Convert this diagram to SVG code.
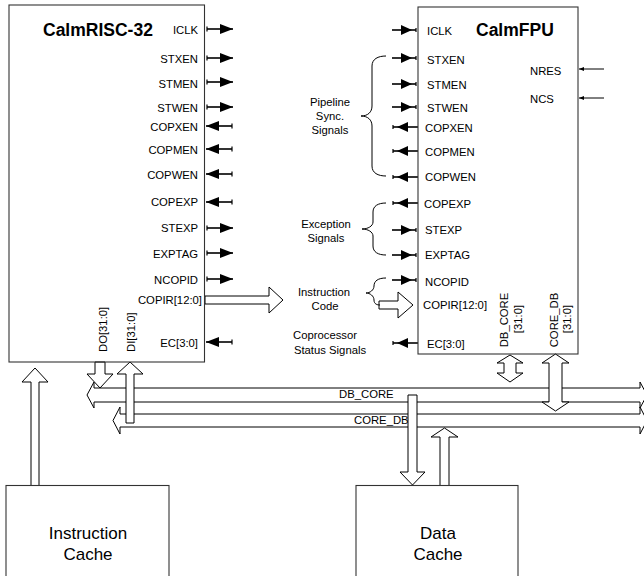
<svg xmlns="http://www.w3.org/2000/svg" width="644" height="576" viewBox="0 0 644 576">
<style>
text{font-family:"Liberation Sans",Arial,sans-serif;fill:#000}
.pin{font-size:11.3px}
.r{text-anchor:end}
.m{text-anchor:middle}
.title{font-size:17.5px;font-weight:bold}
.cache{font-size:17px;text-anchor:middle}
.blk{fill:#fff;stroke:#333;stroke-width:1.1}
.sig{stroke:#000;stroke-width:1.6;fill:none}
.sigL{stroke:#000;stroke-width:1.6;fill:none;marker-start:url(#tick);marker-end:url(#tri)}
.sigR{stroke:#000;stroke-width:1.6;fill:none;marker-end:url(#triT)}
.thin{stroke:#000;stroke-width:1;fill:none;marker-end:url(#small)}
.hol{fill:#fff;stroke:#000;stroke-width:1}
.brace{fill:none;stroke:#000;stroke-width:1}
</style>
<defs>
<marker id="tri" markerUnits="userSpaceOnUse" markerWidth="14" markerHeight="10" refX="13" refY="5" orient="auto" overflow="visible"><path d="M0,0 L13,5 L0,10 z" fill="#000"/></marker>
<marker id="tick" markerUnits="userSpaceOnUse" markerWidth="3" markerHeight="6" refX="1" refY="3" orient="auto" overflow="visible"><path d="M1,0.5 V5.5" stroke="#000" stroke-width="1.2"/></marker>
<marker id="triT" markerUnits="userSpaceOnUse" markerWidth="17" markerHeight="10" refX="16" refY="5" orient="auto" overflow="visible"><path d="M1,0 L12,5 L1,10 z" fill="#000"/><path d="M16,3 V7" stroke="#000" stroke-width="1.2"/></marker>
<marker id="small" markerUnits="userSpaceOnUse" markerWidth="5" markerHeight="4" refX="5" refY="2" orient="auto" overflow="visible"><path d="M0,0 L5,2 L0,4 z" fill="#000"/></marker>
</defs>

<g id="connectors">
  <!-- buses -->
  <polygon id="bus-db-core" class="hol" points="87,395 94,382 94,388 640,388 640,382 647,395 640,408 640,402 94,402 94,408"/>
  <polygon id="bus-core-db" class="hol" points="113,420.5 120,407 120,414 640,414 640,407 647,420.5 640,434 640,427 120,427 120,434"/>
  <text class="pin" x="339" y="398">DB_CORE</text>
  <text class="pin" x="354" y="424">CORE_DB</text>

  <!-- instruction cache to CalmRISC -->
  <polygon class="hol" points="35,368 48,382 39,382 39,486 31,486 31,382 22,382"/>
  <!-- DO -->
  <polygon class="hol" points="95,362 105,362 105,374 113,374 100,388 87,374 95,374"/>
  <!-- DI -->
  <polygon class="hol" points="130,362 143,374 134,374 134,423 126,423 126,374 117,374"/>
  <!-- Data cache down -->
  <polygon class="hol" points="408,395 417,395 417,472 425,472 412.5,485 400,472 408,472"/>
  <!-- Data cache up -->
  <polygon class="hol" points="444.5,428 458,437 449,437 449,486 440,486 440,437 431,437"/>
  <!-- FPU DB_CORE double -->
  <polygon class="hol" points="510,355 523,363 516,363 516,373 523,373 510,382 497,373 504,373 504,363 497,363"/>
  <!-- FPU CORE_DB double -->
  <polygon class="hol" points="555.5,354 569,363 562,363 562,402 569,402 555.5,411 542,402 549,402 549,363 542,363"/>

  <!-- CalmRISC pins -->
  <line class="sigL" x1="207" y1="29" x2="233" y2="29"/>
  <line class="sigL" x1="207" y1="58" x2="233" y2="58"/>
  <line class="sigL" x1="207" y1="82" x2="233" y2="82"/>
  <line class="sigL" x1="207" y1="107" x2="233" y2="107"/>
  <line class="sigL" x1="232" y1="126" x2="206" y2="126"/>
  <line class="sigL" x1="232" y1="149" x2="206" y2="149"/>
  <line class="sigL" x1="232" y1="174" x2="206" y2="174"/>
  <line class="sigL" x1="232" y1="202" x2="206" y2="202"/>
  <line class="sigL" x1="207" y1="228" x2="233" y2="228"/>
  <line class="sigL" x1="207" y1="253" x2="233" y2="253"/>
  <line class="sigL" x1="207" y1="279" x2="233" y2="279"/>
  <line class="sigL" x1="232" y1="342" x2="206" y2="342"/>
  <polygon class="hol" points="205,296 269,296 269,287 283,300 269,313 269,304 205,304"/>

  <!-- CalmFPU pins -->
  <line class="sigR" x1="392" y1="30" x2="416" y2="30"/>
  <line class="sigR" x1="392" y1="58" x2="416" y2="58"/>
  <line class="sigR" x1="392" y1="84" x2="416" y2="84"/>
  <line class="sigR" x1="392" y1="107" x2="416" y2="107"/>
  <line class="sigR" x1="418" y1="127" x2="393" y2="127"/>
  <line class="sigR" x1="418" y1="151" x2="393" y2="151"/>
  <line class="sigR" x1="418" y1="177" x2="393" y2="177"/>
  <line class="sigR" x1="418" y1="203" x2="393" y2="203"/>
  <line class="sigR" x1="392" y1="230" x2="416" y2="230"/>
  <line class="sigR" x1="392" y1="255" x2="416" y2="255"/>
  <line class="sigR" x1="392" y1="280" x2="416" y2="280"/>
  <line class="sigR" x1="418" y1="343" x2="393" y2="343"/>
  <polygon class="hol" points="379,301 398,301 398,292 413,305 398,318 398,309 379,309"/>
  <line class="thin" x1="604" y1="69" x2="579" y2="69"/>
  <line class="thin" x1="604" y1="98" x2="579" y2="98"/>

  <!-- braces -->
  <path class="brace" d="M386,56 C378,56 372,59 372,66 L372,106 C372,112 368,116 361,116 C368,116 372,120 372,126 L372,166 C372,173 378,176 386,176"/>
  <path class="brace" d="M386,203 C378,203 373,206 373,212 L373,222 C373,226 368,229 362,229 C368,229 373,232 373,236 L373,246 C373,252 378,255 386,255"/>
  <path class="brace" d="M386,278 C378,278 374,281 374,286 C374,290 370,293 366,293 C370,293 374,296 374,300 C374,304 377,305 380,305"/>
  <text class="pin m" x="330" y="106">Pipeline</text>
  <text class="pin m" x="330" y="120">Sync.</text>
  <text class="pin m" x="330" y="134">Signals</text>
  <text class="pin m" x="326" y="228">Exception</text>
  <text class="pin m" x="326" y="242">Signals</text>
  <text class="pin m" x="324" y="296">Instruction</text>
  <text class="pin m" x="325" y="310">Code</text>
  <text class="pin m" x="325" y="339">Coprocessor</text>
  <text class="pin m" x="330" y="354">Status Signals</text>
</g>

<g id="calmrisc32">
  <rect class="blk" x="9" y="5" width="195.5" height="357" fill-opacity="0"/>
  <text class="title" x="43" y="36">CalmRISC-32</text>
  <text class="pin r" x="198" y="34">ICLK</text>
  <text class="pin r" x="198" y="63">STXEN</text>
  <text class="pin r" x="198" y="88">STMEN</text>
  <text class="pin r" x="198" y="112">STWEN</text>
  <text class="pin r" x="198" y="131">COPXEN</text>
  <text class="pin r" x="198" y="154">COPMEN</text>
  <text class="pin r" x="198" y="179">COPWEN</text>
  <text class="pin r" x="198" y="206">COPEXP</text>
  <text class="pin r" x="198" y="232">STEXP</text>
  <text class="pin r" x="198" y="258">EXPTAG</text>
  <text class="pin r" x="198" y="284">NCOPID</text>
  <text class="pin r" x="202" y="304">COPIR[12:0]</text>
  <text class="pin r" x="198" y="347">EC[3:0]</text>
  <text class="pin" x="107" y="352" transform="rotate(-90 107 352)">DO[31:0]</text>
  <text class="pin" x="135" y="352" transform="rotate(-90 135 352)">DI[31:0]</text>
</g>

<g id="calmfpu">
  <rect class="blk" x="418" y="7" width="160" height="347" fill-opacity="0"/>
  <text class="title" x="476" y="36">CalmFPU</text>
  <text class="pin" x="427" y="35">ICLK</text>
  <text class="pin" x="427" y="64">STXEN</text>
  <text class="pin" x="427" y="89">STMEN</text>
  <text class="pin" x="427" y="112">STWEN</text>
  <text class="pin" x="425" y="132">COPXEN</text>
  <text class="pin" x="425" y="156">COPMEN</text>
  <text class="pin" x="425" y="181">COPWEN</text>
  <text class="pin" x="424" y="208">COPEXP</text>
  <text class="pin" x="425" y="234">STEXP</text>
  <text class="pin" x="425" y="259">EXPTAG</text>
  <text class="pin" x="425" y="286">NCOPID</text>
  <text class="pin" x="423" y="309">COPIR[12:0]</text>
  <text class="pin" x="427" y="348">EC[3:0]</text>
  <text class="pin" x="530" y="75">NRES</text>
  <text class="pin" x="530" y="103">NCS</text>
  <text class="pin m" x="508" y="320" transform="rotate(-90 508 320)">DB_CORE</text>
  <text class="pin m" x="522" y="319" transform="rotate(-90 522 319)">[31:0]</text>
  <text class="pin m" x="558" y="320" transform="rotate(-90 558 320)">CORE_DB</text>
  <text class="pin m" x="571" y="319" transform="rotate(-90 571 319)">[31:0]</text>
</g>

<g id="instruction-cache">
  <rect class="blk" x="6" y="485.5" width="163" height="120"/>
  <text class="cache" x="88" y="539">Instruction</text>
  <text class="cache" x="88" y="560">Cache</text>
</g>

<g id="data-cache">
  <rect class="blk" x="356" y="485.5" width="162" height="120"/>
  <text class="cache" x="438" y="539">Data</text>
  <text class="cache" x="438" y="560">Cache</text>
</g>
</svg>
